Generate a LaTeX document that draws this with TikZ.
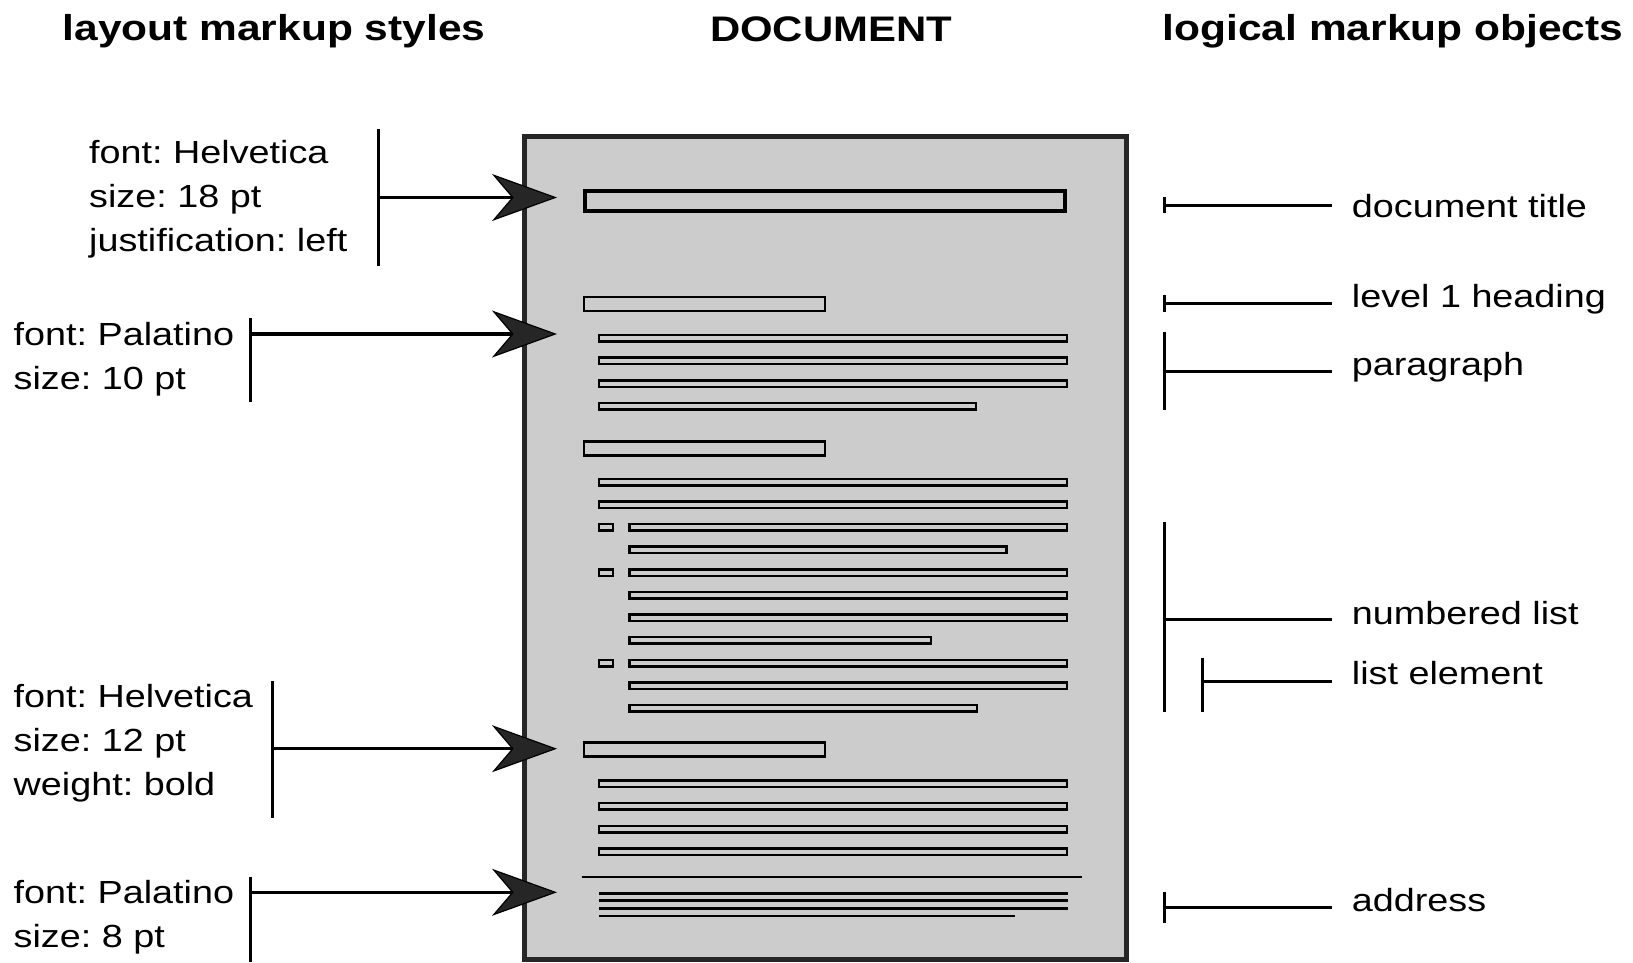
\documentclass[tikz,border=0pt]{standalone}
\usepackage{fontspec}
\setmainfont{Liberation Sans}[FakeStretch=1.18]
\usetikzlibrary{arrows.meta}
\frenchspacing

\definecolor{pagegray}{HTML}{CCCCCC}
\definecolor{inkgray}{HTML}{262626}

\tikzset{
	attr/.style = {anchor = base west, inner sep = 0pt, align = left, font = \fontsize{32}{44}\selectfont},
	obj/.style = {anchor = base west, inner xsep = 20pt, inner ysep = 0pt, font = \fontsize{32}{44}\selectfont},
	head/.style = {anchor = base, inner sep = 0pt, font = \fontsize{36}{40}\selectfont\bfseries},
	bar/.style = {draw, line width = 2.5pt},
	brace/.style = {line width = 3pt},
	big/.style = {line width = 3.3pt, -{Stealth[length = 65pt, width = 47pt, inset = 20pt, line width = 1.2pt, fill = inkgray]}}
}

\begin{document}
\begin{tikzpicture}[x = 1pt, y = -1pt]
	\useasboundingbox (0,0) rectangle (1633,962);

	\node (h1)[head] at (274,40) {layout markup styles};
	\node (h2)[head, font = \fontsize{35.5}{40}\selectfont\bfseries] at (831,41) {DOCUMENT};
	\node (h3)[head] at (1393,40.5) {logical markup objects};

	\draw[line width = 5pt, draw = inkgray, fill = pagegray] (524,136) rectangle (1126,959.5);

	\draw[bar, line width = 3.5pt] (584.8,190.8) rectangle (1064.8,211.2);
	\draw[bar] (584.2,297.2) rectangle (825.2,311.2)
		(584.2,441.3) rectangle (825.2,455.3)
		(584.2,742.7) rectangle (825.2,756.7);

	\draw[bar] (599.2,334.95) rectangle (1067.2,341.45)
		(599.2,357.55) rectangle (1067.2,364.05)
		(599.2,380.25) rectangle (1067.2,386.75)
		(599.2,402.95) rectangle (976.2,409.45);

	\draw[bar] (599.2,478.75) rectangle (1067.2,485.25)
		(599.2,501.35) rectangle (1067.2,507.85)
		(599.2,524.05) rectangle (613.2,530.55)
		(629.7,524.05) rectangle (1067.2,530.55)
		(629.7,546.65) rectangle (1006.5,553.15)
		(599.2,569.25) rectangle (613.2,575.75)
		(629.7,569.25) rectangle (1067.2,575.75)
		(629.7,591.95) rectangle (1067.2,598.45)
		(629.7,614.55) rectangle (1067.2,621.05)
		(629.7,637.15) rectangle (931.1,643.65)
		(599.2,659.75) rectangle (613.2,666.25)
		(629.7,659.75) rectangle (1067.2,666.25)
		(629.7,682.45) rectangle (1067.2,688.95)
		(629.7,705.05) rectangle (976.8,711.55);

	\draw[bar] (599.2,780.45) rectangle (1067.2,786.95)
		(599.2,803.05) rectangle (1067.2,809.55)
		(599.2,825.75) rectangle (1067.2,832.25)
		(599.2,848.45) rectangle (1067.2,854.95);

	\draw[line width = 1.2pt] (581.5,877) -- (1082,877);
	\draw[line width = 2.5pt] (599,893.3) -- (1067.5,893.3)
		(599,900.7) -- (1067.5,900.7)
		(599,908.7) -- (1067.5,908.7)
		(599,916) -- (1014.7,916);

	\node (1)[attr] at (89,251.5) {font: Helvetica\\size: 18 pt\\justification: left};
	\node (2)[attr] at (13.5,389) {font: Palatino\\size: 10 pt};
	\node (3)[attr] at (13.5,795) {font: Helvetica\\size: 12 pt\\weight: bold};
	\node (4)[attr] at (13.5,947.5) {font: Palatino\\size: 8 pt};

	\coordinate (b1) at (378,197.5);
	\coordinate (b2) at (250.5,334);
	\coordinate (b3) at (272.5,748.7);
	\coordinate (b4) at (250.7,892.3);
	\coordinate (t1) at (557,197.5);
	\coordinate (t2) at (557,334);
	\coordinate (t3) at (557,748.7);
	\coordinate (t4) at (557,892.3);

	\draw[brace] (378,129) -- (378,266);
	\draw[brace] (250.5,318) -- (250.5,401.5);
	\draw[brace] (272.5,680.7) -- (272.5,817.7);
	\draw[brace] (250.7,876.7) -- (250.7,962);
	\draw[big] (b1) -- (t1);
	\draw[big] (b2) -- (t2);
	\draw[big] (b3) -- (t3);
	\draw[big] (b4) -- (t4);

	\node (5)[obj] at (1331.7,217) {document title};
	\node (6)[obj] at (1331.7,307) {level 1 heading};
	\node (7)[obj] at (1331.7,375) {paragraph};
	\node (8)[obj] at (1331.7,624.5) {numbered list};
	\node (9)[obj] at (1331.7,684) {list element};
	\node (10)[obj] at (1331.7,911.5) {address};

	\coordinate (c5) at (1164,205);
	\coordinate (c6) at (1164,303.3);
	\coordinate (c7) at (1164,371);
	\coordinate (c8) at (1164,619.3);
	\coordinate (c9) at (1202.7,681);
	\coordinate (c10) at (1164,907.3);

	\draw[brace] (1164,196.7) -- (1164,213.3);
	\draw[brace] (1164,295) -- (1164,311.7);
	\draw[brace] (1164,331.7) -- (1164,410);
	\draw[brace] (1164,521.7) -- (1164,711.7);
	\draw[brace] (1202.7,657.7) -- (1202.7,711.7);
	\draw[brace] (1164,891.7) -- (1164,923.3);
	\draw[brace] (c5) -- (c5 -| 5.west);
	\draw[brace] (c6) -- (c6 -| 6.west);
	\draw[brace] (c7) -- (c7 -| 7.west);
	\draw[brace] (c8) -- (c8 -| 8.west);
	\draw[brace] (c9) -- (c9 -| 9.west);
	\draw[brace] (c10) -- (c10 -| 10.west);
\end{tikzpicture}
\end{document}
